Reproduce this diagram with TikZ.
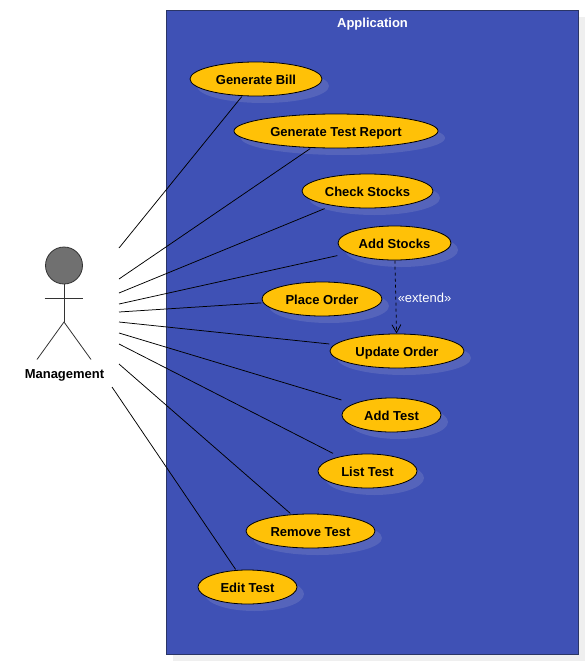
\documentclass[tikz,border=0pt]{standalone}
\usepackage{fontspec}
\setmainfont{Liberation Sans}
\usetikzlibrary{shapes.geometric,arrows.meta}
\definecolor{frameblue}{HTML}{3F51B5}
\definecolor{frameedge}{HTML}{2A3566}
\definecolor{shadowblue}{HTML}{5564BB}
\definecolor{amberfill}{HTML}{FFC107}
\definecolor{pageshadow}{HTML}{EFEFEF}
\definecolor{headgrey}{HTML}{707070}
\definecolor{actoredge}{HTML}{333333}
\tikzset{
  x=1pt,y=-1pt,
  usecase/.style={rectangle,inner sep=0pt,outer sep=0pt,minimum width=#1*1pt+1.2pt,minimum height=35.2pt,
    text height=11.6pt,text depth=0.2pt,font=\fontsize{13}{15}\selectfont\bfseries,text=black,
    path picture={\draw[fill=amberfill,draw=black,line width=0.8pt] (path picture bounding box.center) ellipse [x radius=#1/2*1pt,y radius=17pt];}},
  caseshadow/.style={ellipse,fill=shadowblue,inner sep=0pt,minimum height=34pt},
  assoc/.style={draw=black,line width=0.75pt},
  limb/.style={draw=actoredge,line width=0.8pt},
  labelw/.style={text=white,text height=10pt,text depth=0.6pt,font=\fontsize{13}{15}\selectfont}
}
\begin{document}
\begin{tikzpicture}
\useasboundingbox (0,0) rectangle (588,664);
\fill[pageshadow] (173,17) rectangle (585,661);
\draw[fill=frameblue,draw=frameedge,line width=0.9pt] (166,10) rectangle (578,654);
\node[labelw,font=\fontsize{13}{15}\selectfont\bfseries] (apptitle) at (372.5,22.5) {Application};
% shadows
\foreach \cx/\cy/\w in {256/79/132,336/131/204,367.5/191/131,394.5/243/113,322/299/120,397/351/134,391.5/415/99,367.5/471/99,310.5/531/129,247.5/587/99}{
  \node[caseshadow,minimum width=\w pt] at (\cx+7,\cy+7) {};
}
% actor
\node[circle,draw=actoredge,fill=headgrey,line width=0.8pt,minimum size=37pt,inner sep=0pt] (head) at (64,265.5) {};
\coordinate (hip) at (64,322);
\coordinate (armL) at (44.5,298.5);
\coordinate (armR) at (83,298.5);
\coordinate (footL) at (37,359.5);
\coordinate (footR) at (91,359.5);
\draw[limb] (head) -- (hip);
\draw[limb] (armL) -- (armR);
\draw[limb] (footL) -- (hip) -- (footR);
\node[text height=10pt,text depth=0.6pt,font=\fontsize{13}{15}\selectfont\bfseries,text=black] (actor) at (64.5,373.5) {Management};
% use cases
\node[usecase=132] (bill) at (256,79) {Generate Bill};
\node[usecase=204] (report) at (336,131) {Generate Test Report};
\node[usecase=131] (check) at (367.5,191) {Check Stocks};
\node[usecase=113] (adds) at (394.5,243) {Add Stocks};
\node[usecase=120] (place) at (322,299) {Place Order};
\node[usecase=134] (update) at (397,351) {Update Order};
\node[usecase=99] (addt) at (391.5,415) {Add Test};
\node[usecase=99] (list) at (367.5,471) {List Test};
\node[usecase=129] (remove) at (310.5,531) {Remove Test};
\node[usecase=99] (edit) at (247.5,587) {Edit Test};
% free ends
\coordinate (s1) at (119,248);
\coordinate (s2) at (119,279);
\coordinate (s3) at (119,293);
\coordinate (s4) at (119,304);
\coordinate (s5) at (119,312);
\coordinate (s6) at (119,322);
\coordinate (s7) at (119,333);
\coordinate (s8) at (119,344);
\coordinate (s9) at (119,364);
\coordinate (s10) at (112,387);
\draw[assoc] (s1) -- (bill);
\draw[assoc] (s2) -- (report);
\draw[assoc] (s3) -- (check);
\draw[assoc] (s4) -- (adds);
\draw[assoc] (s5) -- (place);
\draw[assoc] (s6) -- (update);
\draw[assoc] (s7) -- (addt);
\draw[assoc] (s8) -- (list);
\draw[assoc] (s9) -- (remove);
\draw[assoc] (s10) -- (edit);
% extend
\draw[line width=0.75pt,black,dash pattern=on 3pt off 3pt,-{Straight Barb[length=8pt,width=9pt]}] (adds) -- (update);
\node[labelw] (ext) at (424.5,297.5) {«extend»};
\end{tikzpicture}
\end{document}
